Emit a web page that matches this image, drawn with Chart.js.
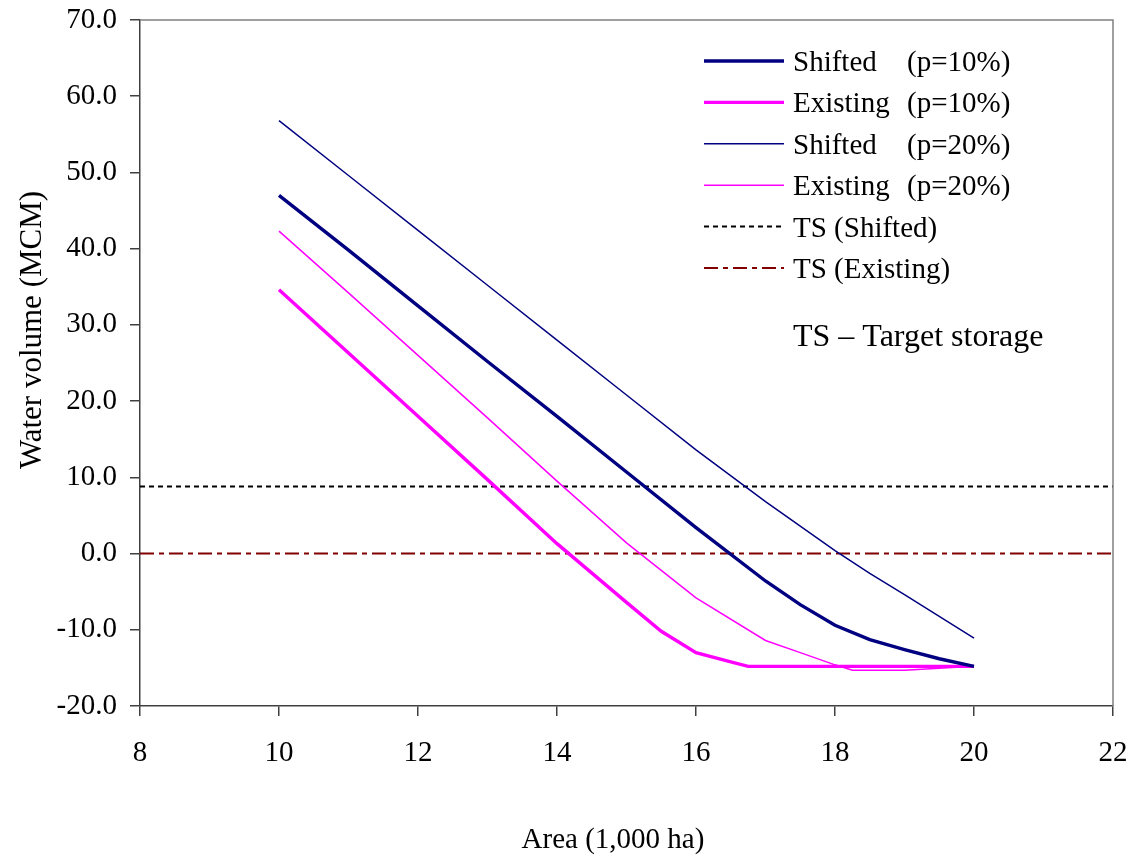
<!DOCTYPE html>
<html>
<head>
<meta charset="utf-8">
<title>Water volume vs Area</title>
<script src="https://cdn.jsdelivr.net/npm/chart.js@4/dist/chart.umd.min.js"></script>
<style>
	body { margin: 0; background: #ffffff; }
	#chart { display: block; }
</style>
</head>
<body>
<canvas id="chart" width="1136" height="858"></canvas>
<script>

var areaShifted10 = [10, 11, 12, 13, 14, 15, 16, 17, 17.5, 18, 18.5, 19, 19.5, 20];
var shifted10 = [47.0, 39.8, 32.5, 25.2, 18.0, 10.7, 3.4, -3.6, -6.7, -9.4, -11.3, -12.6, -13.8, -14.8];

var areaExisting10 = [10, 11, 12, 13, 14, 15, 15.5, 16, 16.5, 16.75, 17, 18, 19, 20];
var existing10 = [34.6, 26.3, 18.0, 9.7, 1.3, -6.4, -10.2, -13.0, -14.2, -14.8, -14.8, -14.8, -14.8, -14.8];

var areaShifted20 = [10, 11, 12, 13, 14, 15, 16, 17, 18, 18.5, 19, 20];
var shifted20 = [56.8, 49.6, 42.4, 35.2, 28.0, 20.8, 13.6, 6.8, 0.4, -2.6, -5.4, -11.1];

var areaExisting20 = [10, 11, 12, 13, 14, 15, 16, 17, 17.5, 18, 18.25, 19, 20];
var existing20 = [42.3, 34.2, 26.0, 17.8, 9.5, 1.4, -5.8, -11.4, -13.0, -14.6, -15.3, -15.3, -14.8];

var areaTS = [8, 22];
var tsShifted = [8.8, 8.8];
var tsExisting = [0, 0];

var seriesNames = ["Shifted", "Existing", "Shifted", "Existing", "TS (Shifted)", "TS (Existing)"];
var seriesP = ["(p=10%)", "(p=10%)", "(p=20%)", "(p=20%)", "", ""];
var noteText = "TS \u2013 Target storage";
var xTitle = "Area (1,000 ha)";
var yTitle = "Water volume (MCM)";

var FONT = "'Liberation Serif', 'Times New Roman', serif";

function pts(xs, ys) {
	var out = [];
	for (var i = 0; i < xs.length; i++) {
		out[out.length] = { x: xs[i], y: ys[i] };
	}
	return out;
}

function line(label, xs, ys, color, width, dash) {
	return {
		label: label,
		data: pts(xs, ys),
		showLine: true,
		borderColor: color,
		backgroundColor: color,
		borderWidth: width,
		borderDash: dash || [],
		pointRadius: 0,
		pointHoverRadius: 0,
		tension: 0,
		fill: false
	};
}

// frame on top/right, inside legend and axis titles
var extras = {
	id: 'extras',
	afterDraw: function(chart) {
		var ctx = chart.ctx;
		var a = chart.chartArea;
		ctx.save();

		ctx.strokeStyle = '#808080';
		ctx.lineWidth = 1.5;
		ctx.beginPath();
		ctx.moveTo(a.left, a.top);
		ctx.lineTo(a.right, a.top);
		ctx.lineTo(a.right, a.bottom);
		ctx.stroke();

		var ds = chart.data.datasets;
		var y0 = 61, step = 41.4;
		for (var i = 0; i < ds.length; i++) {
			var ly = y0 + i * step;
			ctx.strokeStyle = ds[i].borderColor;
			ctx.lineWidth = ds[i].borderWidth;
			ctx.setLineDash(ds[i].borderDash);
			ctx.beginPath();
			ctx.moveTo(704, ly);
			ctx.lineTo(784, ly);
			ctx.stroke();
			ctx.setLineDash([]);

			ctx.fillStyle = '#000000';
			ctx.font = '29px ' + FONT;
			ctx.textAlign = 'left';
			ctx.textBaseline = 'alphabetic';
			ctx.fillText(seriesNames[i], 793, ly + 10);
			if (seriesP[i] != "")
				ctx.fillText(seriesP[i], 907, ly + 10);
		}
		ctx.font = '32px ' + FONT;
		ctx.fillText(noteText, 793, 346);

		ctx.font = '29px ' + FONT;
		ctx.textAlign = 'center';
		ctx.fillText(xTitle, 613, 848);

		ctx.translate(41, 330);
		ctx.rotate(-Math.PI / 2);
		ctx.font = '31px ' + FONT;
		ctx.fillText(yTitle, 0, 0);

		ctx.restore();
	}
};

new Chart(document.getElementById("chart"), {
	type: 'scatter',
	data: {
		datasets: [
			line("Shifted (p=10%)", areaShifted10, shifted10, "#000080", 3.4),
			line("Existing (p=10%)", areaExisting10, existing10, "#FF00FF", 3.4),
			line("Shifted (p=20%)", areaShifted20, shifted20, "#000080", 1.5),
			line("Existing (p=20%)", areaExisting20, existing20, "#FF00FF", 1.5),
			line("TS (Shifted)", areaTS, tsShifted, "#000000", 2, [5, 4]),
			line("TS (Existing)", areaTS, tsExisting, "#800000", 2, [14, 5, 5, 5])
		]
	},
	options: {
		responsive: false,
		animation: false,
		devicePixelRatio: 1,
		layout: { padding: { left: 0, top: 20, right: 23, bottom: 0 } },
		plugins: {
			legend: { display: false },
			title: { display: false },
			tooltip: { enabled: false }
		},
		scales: {
			x: {
				type: 'linear',
				min: 8,
				max: 22,
				afterFit: function(scale) {
					scale.height = 152;
					scale.paddingLeft = 0;
					scale.paddingRight = 0;
				},
				grid: { drawOnChartArea: false, tickLength: 10, color: '#404040', lineWidth: 1.5 },
				border: { color: '#404040', width: 1.5 },
				ticks: {
					stepSize: 2,
					color: '#000000',
					padding: 20,
					maxRotation: 0,
					font: { family: FONT, size: 29 }
				}
			},
			y: {
				type: 'linear',
				min: -20,
				max: 70,
				afterFit: function(scale) {
					scale.width = 140;
					scale.paddingTop = 0;
					scale.paddingBottom = 0;
				},
				grid: { drawOnChartArea: false, tickLength: 10, color: '#404040', lineWidth: 1.5 },
				border: { color: '#404040', width: 1.5 },
				ticks: {
					stepSize: 10,
					color: '#000000',
					padding: 13,
					font: { family: FONT, size: 29 },
					callback: function(v) { return v.toFixed(1); }
				}
			}
		}
	},
	plugins: [extras]
});

</script>
</body>
</html>
